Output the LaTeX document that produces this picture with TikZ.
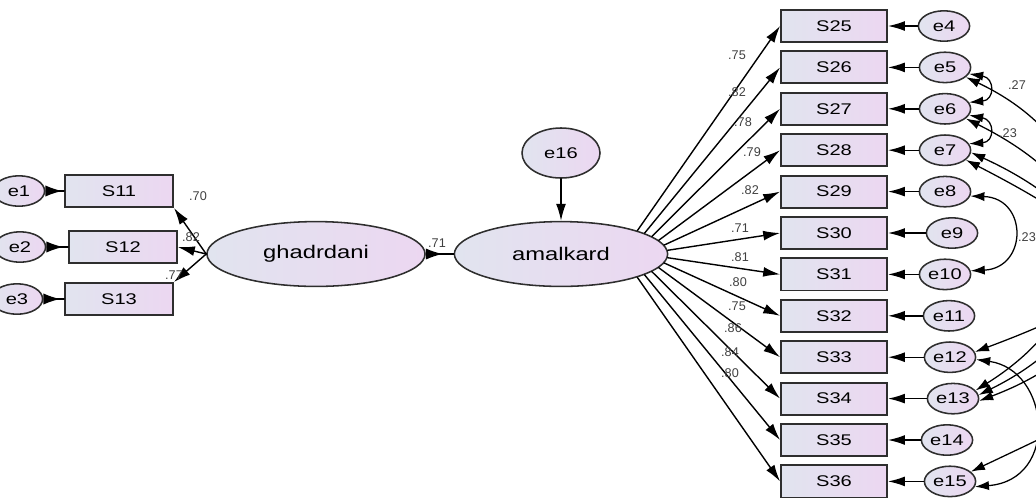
\documentclass[tikz,border=0pt]{standalone}
\usepackage{fontspec}
\setmainfont{Liberation Sans}[FakeStretch=1.3]
\newfontfamily\coeffont{Liberation Sans}
\usepackage{tikz}
\usetikzlibrary{arrows.meta, shapes.geometric, calc}

\definecolor{fillL}{HTML}{E1E4EF}
\definecolor{fillR}{HTML}{ECD7F1}
\definecolor{rim}{HTML}{2E2E2E}

\tikzset{
  obs/.style = {draw=rim, line width=1.3pt, rectangle, left color=fillL, right color=fillR,
    minimum width=2.65cm, minimum height=0.8cm, inner sep=0pt, font=\fontsize{11}{12}\selectfont},
  err/.style = {draw=rim, line width=1.1pt, ellipse, left color=fillL, right color=fillR,
    minimum width=1.28cm, minimum height=0.76cm, inner sep=0pt, font=\fontsize{11}{12}\selectfont},
  lat/.style = {err, minimum width=5.45cm, minimum height=1.62cm, font=\fontsize{13}{14}\selectfont},
  load/.style = {line width=1pt, -{Latex[length=12pt,width=7pt]}},
  back/.style = {line width=1pt, {Latex[reversed,length=12pt,width=8pt]}-},
  cov/.style = {line width=0.9pt, {Latex[length=10pt,width=6.5pt]}-{Latex[length=10pt,width=6.5pt]}},
  coef/.style = {font=\coeffont\fontsize{9}{10}\selectfont, text=black!75, inner sep=0.5pt},
}

\begin{document}
\begin{tikzpicture}[x=0.025cm, y=-0.025cm, line cap=round]
  \useasboundingbox (0,0) rectangle (1036,502);

  % latent variables
  \node[lat] (ghad) at (316,254) {ghadrdani};
  \node[lat, minimum width=5.33cm] (amal) at (561,254) {amalkard};
  \node[err, minimum width=1.95cm, minimum height=1.25cm] (e16) at (561,153) {e16};
  \draw[load] (e16) -- (amal);
  \draw[back] (ghad.east) -- (amal.west);
  \node[coef] (c71) at (437,243) {.71};

  % left block
  \node[obs, minimum width=2.7cm] (s11) at (119,191) {S11};
  \node[obs, minimum width=2.7cm] (s12) at (123,247) {S12};
  \node[obs, minimum width=2.7cm] (s13) at (119,299) {S13};
  \node[err] (e1) at (19,191) {e1};
  \node[err] (e2) at (20,247) {e2};
  \node[err] (e3) at (17,299) {e3};
  \foreach \i/\s in {1/11, 2/12, 3/13}
    \draw[back] (e\i.east) -- (s\s.west);
  \draw[load] (ghad.west) -- (s11.south east);
  \draw[load] (ghad.west) -- (s12.east);
  \draw[load] (ghad.west) -- (s13.north east);
  \node[coef] (c11) at (198,196) {.70};
  \node[coef] (c12) at (191,237) {.82};
  \node[coef] (c13) at (174,275) {.77};

  % right block
  \foreach \k/\s/\e/\ex/\ang/\c/\lx/\ly in {
      0/25/4/944/17/.75/737/55,
      1/26/5/945/14/.82/737/92,
      2/27/6/945/11/.78/743/122,
      3/28/7/945/8/.79/752/152,
      4/29/8/945/5/.82/750/190,
      5/30/9/952/2/.71/740/228,
      6/31/10/945/-2/.81/740/257,
      7/32/11/949/-5/.80/738/282,
      8/33/12/950/-8/.75/737/306,
      9/34/13/953/-11/.86/733/328,
      10/35/14/947/-14/.84/730/352,
      11/36/15/950/-17/.80/730/373} {
    \node[obs] (s\s) at (834,{26+41.4*\k}) {S\s};
    \node[err] (e\e) at (\ex,{26+41.4*\k}) {e\e};
    \draw[load] (e\e) -- (s\s);
    \draw[load] (amal.\ang) -- (s\s.west);
    \node[coef] (c\s) at (\lx,\ly) {\c};
  }

  % covariances
  \draw[cov] (e5.-15) .. controls (995,78) and (995,100) .. (e6.15);
  \draw[cov] (e6.-15) .. controls (995,120) and (995,142) .. (e7.15);
  \draw[cov] (e8.-10) .. controls (1028,198) and (1028,268) .. (e10.8);
  \draw[cov] (e12.-5) .. controls (1050,370) and (1060,480) .. (e15.-12);
  \draw[cov] (e5.-25) .. controls (1120,150) and (1120,300) .. (e13.20);
  \draw[cov] (e6.-25) .. controls (1130,200) and (1130,320) .. (e13.8);
  \draw[cov] (e7.-5) .. controls (1140,230) and (1140,340) .. (e13.-5);
  \draw[cov] (e7.-25) .. controls (1160,260) and (1140,290) .. (e12.12);
  \coordinate (far15) at (1150,380);
  \draw[line width=0.9pt, -{Latex[length=10pt,width=6.5pt]}] (far15) .. controls (1080,420) .. (e15.25);
  \node[coef] (c56) at (1017,85) {.27};
  \node[coef] (c67) at (1008,133) {.23};
  \node[coef] (c810) at (1027,237) {.23};
\end{tikzpicture}
\end{document}
